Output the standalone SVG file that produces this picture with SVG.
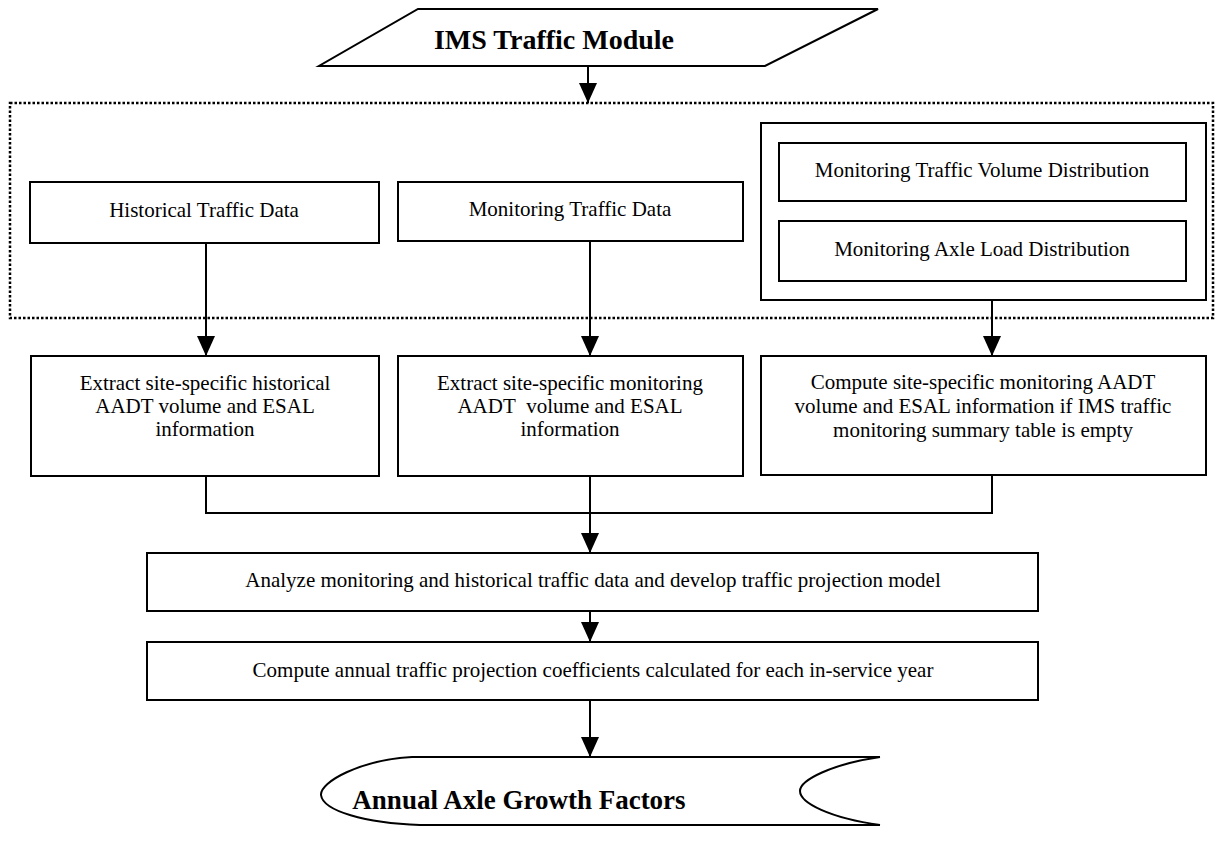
<svg xmlns="http://www.w3.org/2000/svg" width="1223" height="843" viewBox="0 0 1223 843">
<style>
.box{fill:#fff;stroke:#000;stroke-width:2}
.t{font-family:"Liberation Serif","Times New Roman",serif;font-size:21px;fill:#000;text-anchor:middle}
.b{font-family:"Liberation Serif","Times New Roman",serif;font-weight:bold;fill:#000;text-anchor:middle}
.c{fill:none;stroke:#000;stroke-width:2}
</style>
<defs>
<marker id="ah" viewBox="0 0 20 18" refX="20" refY="9" markerWidth="20" markerHeight="18" markerUnits="userSpaceOnUse" orient="auto">
<path d="M0,0 L20,9 L0,18 z" fill="#000"/>
</marker>
</defs>
<rect width="1223" height="843" fill="#fff"/>

<g id="module">
<polygon class="box" points="418,9 878,9 765,66 319,66"/>
<text class="b" x="554" y="49" font-size="28">IMS Traffic Module</text>
</g>

<g id="group">
<rect x="10" y="103" width="1203" height="215" fill="none" stroke="#000" stroke-width="2.5" stroke-dasharray="2.5 2"/>
</g>

<g id="historical">
<rect class="box" x="30" y="182" width="349" height="61"/>
<text class="t" x="204" y="217">Historical Traffic Data</text>
</g>
<g id="monitoring">
<rect class="box" x="398" y="182" width="345" height="59"/>
<text class="t" x="570" y="216">Monitoring Traffic Data</text>
</g>
<g id="distributions">
<rect class="box" x="761" y="123" width="445" height="177" stroke-width="2.5"/>
</g>
<g id="volume">
<rect class="box" x="779" y="143" width="407" height="58"/>
<text class="t" x="982" y="177">Monitoring Traffic Volume Distribution</text>
</g>
<g id="axle">
<rect class="box" x="779" y="221" width="407" height="60"/>
<text class="t" x="982" y="256">Monitoring Axle Load Distribution</text>
</g>

<g id="extract-hist">
<rect class="box" x="31" y="356" width="348" height="120"/>
<text class="t" x="205" y="390">Extract site-specific historical</text>
<text class="t" x="205" y="413">AADT volume and ESAL</text>
<text class="t" x="205" y="436">information</text>
</g>
<g id="extract-mon">
<rect class="box" x="398" y="356" width="345" height="120"/>
<text class="t" x="570" y="390">Extract site-specific monitoring</text>
<text class="t" x="570" y="413">AADT&#160; volume and ESAL</text>
<text class="t" x="570" y="436">information</text>
</g>
<g id="compute-mon">
<rect class="box" x="761" y="356" width="445" height="119"/>
<text class="t" x="983" y="389">Compute site-specific monitoring AADT</text>
<text class="t" x="983" y="413">volume and ESAL information if IMS traffic</text>
<text class="t" x="983" y="437">monitoring summary table is empty</text>
</g>

<g id="analyze">
<rect class="box" x="147" y="553" width="891" height="58"/>
<text class="t" x="593" y="587" font-size="21.5">Analyze monitoring and historical traffic data and develop traffic projection model</text>
</g>
<g id="coefficients">
<rect class="box" x="147" y="642" width="891" height="58"/>
<text class="t" x="593" y="677" font-size="21.5">Compute annual traffic projection coefficients calculated for each in-service year</text>
</g>

<g id="output">
<path class="box" d="M880,757 L412,757 C360,760 320,782 321,795 C323,811 365,823 420,825 L880,825"/>
<path class="c" d="M880,757 C832,764 800,780 800,791 C800,803 830,818 880,825"/>
<text class="b" x="519" y="809" font-size="27">Annual Axle Growth Factors</text>
</g>

<g id="connectors">
<line class="c" x1="588" y1="66" x2="588" y2="103" marker-end="url(#ah)"/>
<line class="c" x1="206" y1="243" x2="206" y2="356" marker-end="url(#ah)"/>
<line class="c" x1="590" y1="241" x2="590" y2="356" marker-end="url(#ah)"/>
<line class="c" x1="992" y1="300" x2="992" y2="356" marker-end="url(#ah)"/>
<polyline class="c" points="206,476 206,513 992,513 992,475"/>
<line class="c" x1="590" y1="476" x2="590" y2="553" marker-end="url(#ah)"/>
<line class="c" x1="590" y1="611" x2="590" y2="642" marker-end="url(#ah)"/>
<line class="c" x1="590" y1="700" x2="590" y2="757" marker-end="url(#ah)"/>
</g>
</svg>
